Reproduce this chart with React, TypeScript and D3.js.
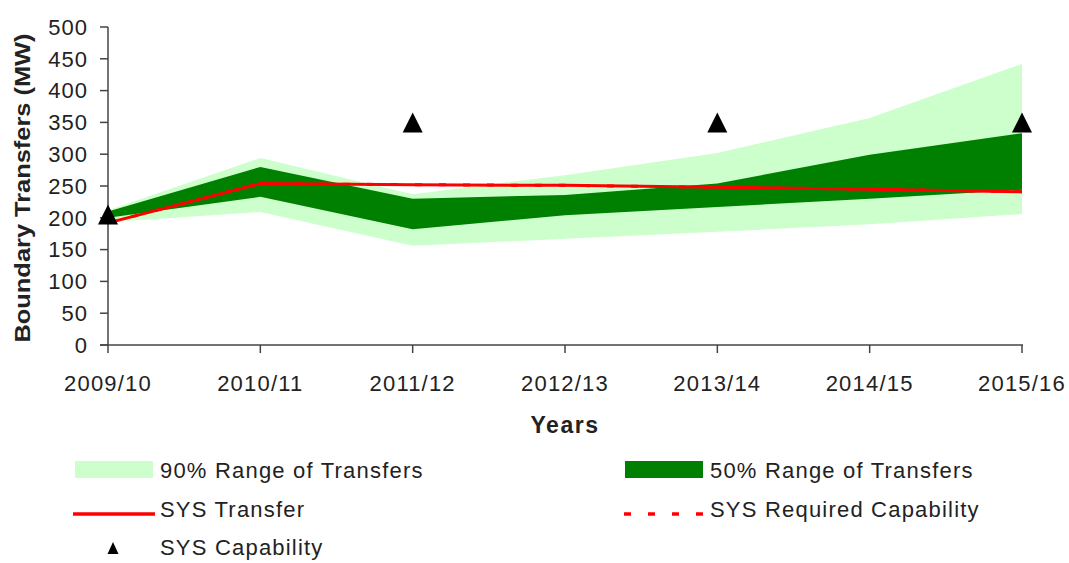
import React from "react";
import * as d3 from "d3";

const years = ["2009/10", "2010/11", "2011/12", "2012/13", "2013/14", "2014/15", "2015/16"];
const range90Upper = [212, 294, 237, 267, 302, 357, 442];
const range90Lower = [193, 209, 156, 167, 178, 190, 206];
const range50Upper = [210, 280, 230, 236, 254, 299, 333];
const range50Lower = [200, 233, 182, 204, 217, 230, 244];
const sysTransfer = [192, 254, 252, 251, 248, 245, 241];
const sysRequired = [192, 254, 252, 251, 248, 245, 241];
const sysCapability: (number | null)[] = [205, null, 350, null, 350, null, 350];
const yTicks = [0, 50, 100, 150, 200, 250, 300, 350, 400, 450, 500];

const W = 1069;
const H = 563;
const FONT = "'Liberation Sans', Arial, sans-serif";
const TXT = "#222";

export default function App() {
  const x = d3.scalePoint<string>().domain(years).range([108, 1022]);
  const y = d3.scaleLinear().domain([0, 500]).range([345, 27]);
  const idx = years.map((_, i) => i);

  const area90 = d3
    .area<number>()
    .x((i) => x(years[i]) as number)
    .y0((i) => y(range90Lower[i]))
    .y1((i) => y(range90Upper[i]));
  const area50 = d3
    .area<number>()
    .x((i) => x(years[i]) as number)
    .y0((i) => y(range50Lower[i]))
    .y1((i) => y(range50Upper[i]));
  const lineT = d3
    .line<number>()
    .x((i) => x(years[i]) as number)
    .y((i) => y(sysTransfer[i]));
  const lineR = d3
    .line<number>()
    .x((i) => x(years[i]) as number)
    .y((i) => y(sysRequired[i]));

  const tri = (cx: number, cy: number, w: number, h: number) =>
    `M${cx},${cy - h / 2}L${cx + w / 2},${cy + h / 2}L${cx - w / 2},${cy + h / 2}Z`;

  const axisX = 108;
  const axisY = y(0);

  return (
    <svg
      width={W}
      height={H}
      style={{ position: "absolute", left: 0, top: 0, background: "#fff" }}
      fontFamily={FONT}
    >
      <rect x={0} y={0} width={W} height={H} fill="#fff" />
      <path d={area90(idx) || ""} fill="#ccffcc" />
      <path d={area50(idx) || ""} fill="#008000" />
      <path d={lineR(idx) || ""} fill="none" stroke="#ff0000" strokeWidth={3} strokeDasharray="7 17" />
      <path d={lineT(idx) || ""} fill="none" stroke="#ff0000" strokeWidth={3} />

      {/* axes */}
      <line x1={axisX} x2={axisX} y1={y(500)} y2={axisY} stroke="#444" strokeWidth={1.5} />
      <line x1={axisX - 8} x2={1023} y1={axisY} y2={axisY} stroke="#444" strokeWidth={1.5} />
      {yTicks.map((t) => (
        <g key={t}>
          <line x1={axisX - 8} x2={axisX} y1={y(t)} y2={y(t)} stroke="#444" strokeWidth={1.5} />
          <text
            x={88}
            y={y(t)}
            dy="0.35em"
            textAnchor="end"
            fontSize={22}
            letterSpacing={1}
            fill={TXT}
          >
            {t}
          </text>
        </g>
      ))}
      {years.map((yr) => (
        <g key={yr}>
          <line x1={x(yr)} x2={x(yr)} y1={axisY} y2={axisY + 8} stroke="#444" strokeWidth={1.5} />
          <text
            x={x(yr)}
            y={383}
            dy="0.35em"
            textAnchor="middle"
            fontSize={22}
            letterSpacing={1.2}
            fill={TXT}
          >
            {yr}
          </text>
        </g>
      ))}

      {/* capability markers */}
      {sysCapability.map((v, i) =>
        v == null ? null : (
          <path key={i} d={tri(x(years[i]) as number, y(v), 20, 20)} fill="#000" />
        )
      )}

      {/* axis titles */}
      <text
        x={565}
        y={425}
        dy="0.35em"
        textAnchor="middle"
        fontSize={23}
        fontWeight="bold"
        letterSpacing={1.5}
        fill={TXT}
      >
        Years
      </text>
      <text
        transform={`translate(22,188) rotate(-90)`}
        dy="0.35em"
        textAnchor="middle"
        fontSize={22}
        fontWeight="bold"
        textLength={309}
        lengthAdjust="spacingAndGlyphs"
        fill={TXT}
      >
        Boundary Transfers (MW)
      </text>

      {/* legend */}
      <rect x={75} y={461} width={78} height={17} fill="#ccffcc" />
      <text x={160} y={470} dy="0.35em" fontSize={22} letterSpacing={1.2} fill={TXT}>
        90% Range of Transfers
      </text>
      <rect x={625} y={461} width={78} height={17} fill="#008000" />
      <text x={710} y={470} dy="0.35em" fontSize={22} letterSpacing={1.2} fill={TXT}>
        50% Range of Transfers
      </text>
      <line x1={73} x2={155} y1={514} y2={514} stroke="#ff0000" strokeWidth={3.5} />
      <text x={160} y={509} dy="0.35em" fontSize={22} letterSpacing={1.2} fill={TXT}>
        SYS Transfer
      </text>
      <line x1={624} x2={703} y1={514} y2={514} stroke="#ff0000" strokeWidth={3.5} strokeDasharray="7 17" />
      <text x={710} y={509} dy="0.35em" fontSize={22} letterSpacing={1.2} fill={TXT}>
        SYS Required Capability
      </text>
      <path d={tri(113, 548, 11, 12)} fill="#000" />
      <text x={160} y={547} dy="0.35em" fontSize={22} letterSpacing={1.2} fill={TXT}>
        SYS Capability
      </text>
    </svg>
  );
}
